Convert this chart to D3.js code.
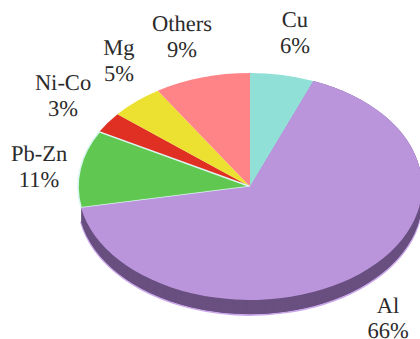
<!DOCTYPE html>
<html>
<head>
<meta charset="utf-8">
<style>
html,body{margin:0;padding:0;background:#fff;overflow:hidden}
svg{display:block}
text{font-family:"Liberation Serif",serif;font-size:22.5px;fill:#2a2a2a;text-anchor:middle;text-rendering:geometricPrecision}
</style>
<script src="https://cdn.jsdelivr.net/npm/d3@7/dist/d3.min.js"></script>
</head>
<body>
<svg id="chart" width="420" height="339"></svg>
<script>
// Share of each metal, clockwise from twelve o'clock
const metals = ["Cu", "Al", "Pb-Zn", "Ni-Co", "Mg", "Others"];
const shares = [6, 66, 11, 3, 5, 9];

const sliceColours = ["#90e0d8", "#bb95dc", "#60c850", "#e03024", "#ece030", "#ff8488"];
const rimColour = "#695080";
const rimEdge = "#cba8ea";

const cx = 250, cy = 186.5, rx = 172, ry = 113.5, depth = 15;

// Label centre x and first-line baseline for each metal
const labelAnchors = {
  "Cu": [295, 27], "Al": [388, 312.5], "Pb-Zn": [39, 161],
  "Ni-Co": [63, 90], "Mg": [119, 55], "Others": [182, 31]
};

const svg = d3.select("#chart");
const pie = d3.pie().sort(null).value(d => d.share);
const arc = d3.arc().innerRadius(0).outerRadius(rx);
const colour = d3.scaleOrdinal().domain(metals).range(sliceColours);
const slices = pie(metals.map((name, i) => ({name, share: shares[i]})));
const squash = ry / rx;

// Raised edge under the largest slice
const al = slices.find(s => s.data.name === "Al");
const rim = svg.append("g");
d3.range(depth, -1, -1).forEach(d => {
  rim.append("path")
    .attr("transform", `translate(${cx},${cy + d}) scale(1,${squash})`)
    .attr("d", arc(al))
    .attr("fill", rimColour)
    .attr("stroke", d === depth ? rimEdge : "none")
    .attr("stroke-width", 1.6)
    .attr("vector-effect", "non-scaling-stroke");
});

// Top face of the pie
const face = svg.append("g")
  .attr("transform", `translate(${cx},${cy}) scale(1,${squash})`);
face.selectAll("path").data(slices).join("path")
  .attr("d", arc)
  .attr("fill", d => colour(d.data.name))
  .attr("stroke", d => d.data.name === "Pb-Zn" ? "#dcf6f2" : "none")
  .attr("stroke-width", 1.6)
  .attr("vector-effect", "non-scaling-stroke");
// Pale outline sits over its neighbours, the largest slice stays on top
face.selectAll("path").filter(d => d.data.name === "Pb-Zn").raise();
face.selectAll("path").filter(d => d.data.name === "Al").raise();

// Two-line labels: name, then percentage
const labels = svg.append("g");
slices.forEach(s => {
  const [x, y] = labelAnchors[s.data.name];
  labels.append("text").attr("x", x).attr("y", y).text(s.data.name);
  labels.append("text").attr("x", x).attr("y", y + 25.5).text(s.data.share + "%");
});
</script>
</body>
</html>
